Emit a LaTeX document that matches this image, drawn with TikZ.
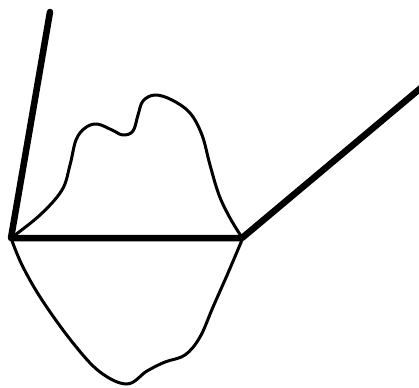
\documentclass[tikz,border=0pt]{standalone}
\begin{document}
\begin{tikzpicture}[x=1pt,y=-1pt,
  heavy/.style={line width=6.5pt, line cap=round, line join=round},
  thin/.style={line width=3pt, line join=round}]
\useasboundingbox (0,0) rectangle (419,387);
\coordinate (A) at (11,238);
\coordinate (B) at (242,238);
\coordinate (C) at (50,12);
\coordinate (D) at (422,87);
% upper curve
\draw[thin] plot[smooth, tension=0.6] coordinates {
 (11,238) (40,215) (62,190) (70,165) (76,140) (85,128) (97,124) (112,130) (123,135) (133,131) (138,115) (143,101) (155,95) (172,100) (190,113) (202,135) (210,165) (219,195) (230,218) (241,236)};
% lower curve
\draw[thin] plot[smooth, tension=0.6] coordinates {
 (11,238) (22,265) (42,300) (73,343) (100,372) (127,384) (147,371) (165,362) (185,355) (200,337) (213,307) (228,273) (242,240)};
\draw[heavy] (C) -- (A) -- (B) -- (D);
\end{tikzpicture}
\end{document}
